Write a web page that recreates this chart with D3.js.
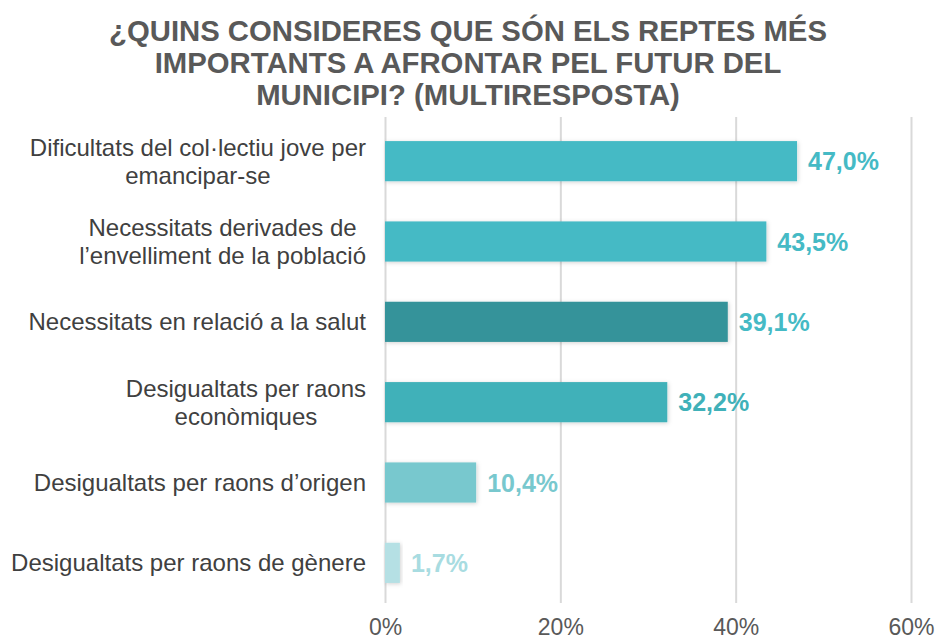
<!DOCTYPE html>
<html><head><meta charset="utf-8">
<script src="https://cdn.jsdelivr.net/npm/d3@7"></script>
<style>body{margin:0;background:#fff;}svg{display:block;font-family:"Liberation Sans",Arial,sans-serif;}</style>
</head><body>
<svg id="c" width="936" height="640"></svg>
<script>
const titleLines = ["¿QUINS CONSIDERES QUE SÓN ELS REPTES MÉS","IMPORTANTS A AFRONTAR PEL FUTUR DEL","MUNICIPI? (MULTIRESPOSTA)"];
const categories = [
  ["Dificultats del col·lectiu jove per","emancipar-se"],
  ["Necessitats derivades de","l’envelliment de la població"],
  ["Necessitats en relació a la salut"],
  ["Desigualtats per raons","econòmiques"],
  ["Desigualtats per raons d’origen"],
  ["Desigualtats per raons de gènere"]
];
const values = [47.0, 43.5, 39.1, 32.2, 10.4, 1.7];
const barColors = ["#45BAC5","#45BAC5","#35939A","#40B1B9","#78C8CE","#B5E0E4"];
const labelColors = ["#45BAC5","#45BAC5","#45BAC5","#40B1B9","#78C8CE","#A8DCE1"];
const xTicks = [0,20,40,60];

const svg = d3.select("#c");
const defs = svg.append("defs");
const f = defs.append("filter").attr("id","sh").attr("x","-10%").attr("y","-30%").attr("width","130%").attr("height","170%");
f.append("feDropShadow").attr("dx",1).attr("dy",1).attr("stdDeviation",2).attr("flood-color","#000").attr("flood-opacity",0.18);

const x = d3.scaleLinear().domain([0,60]).range([385,911]);
const y = d3.scaleBand().domain(d3.range(categories.length)).range([121,603]).paddingInner(0.5).paddingOuter(0.25);

// title
svg.append("g").selectAll("text").data(titleLines).join("text")
  .attr("x",468).attr("y",(d,i)=>41+i*32)
  .attr("text-anchor","middle").attr("font-size",29.3).attr("font-weight","bold").attr("fill","#595959")
  .text(d=>d);

// grid
const xAxis = d3.axisBottom(x).tickValues(xTicks).tickSize(-(603-117)).tickFormat(d=>d+"%");
const gx = svg.append("g").attr("transform","translate(0,603)").call(xAxis);
gx.select(".domain").remove();
gx.selectAll(".tick line").attr("stroke","#D9D9D9").attr("stroke-width",2);
gx.selectAll(".tick text").attr("font-size",23).attr("fill","#595959").attr("dy",0).attr("y",32)
  .attr("font-family","Liberation Sans, Arial, sans-serif");

// bars
svg.append("g").selectAll("rect").data(values).join("rect")
  .attr("x",x(0)).attr("y",(d,i)=>y(i)).attr("width",d=>x(d)-x(0)).attr("height",y.bandwidth())
  .attr("fill",(d,i)=>barColors[i]).attr("filter","url(#sh)");

// value labels
svg.append("g").selectAll("text").data(values).join("text")
  .attr("x",d=>x(d)+11).attr("y",(d,i)=>y(i)+y.bandwidth()/2+9)
  .attr("font-size",25).attr("font-weight","bold").attr("fill",(d,i)=>labelColors[i])
  .text(d=>d.toFixed(1).replace(".",",")+"%");

// category labels
const cg = svg.append("g");
categories.forEach((lines,i)=>{
  const g = cg.append("g");
  const cy = y(i)+y.bandwidth()/2;
  const lh = 28;
  const t = g.selectAll("text").data(lines).join("text")
    .attr("y",(d,j)=>cy+8.5+(j-(lines.length-1)/2)*lh)
    .attr("font-size",24).attr("fill","#404040").attr("text-anchor","middle").text(d=>d);
  let mw = 0; t.each(function(){mw=Math.max(mw,this.getComputedTextLength());});
  t.attr("x",366-mw/2);
});
</script>
</body></html>
